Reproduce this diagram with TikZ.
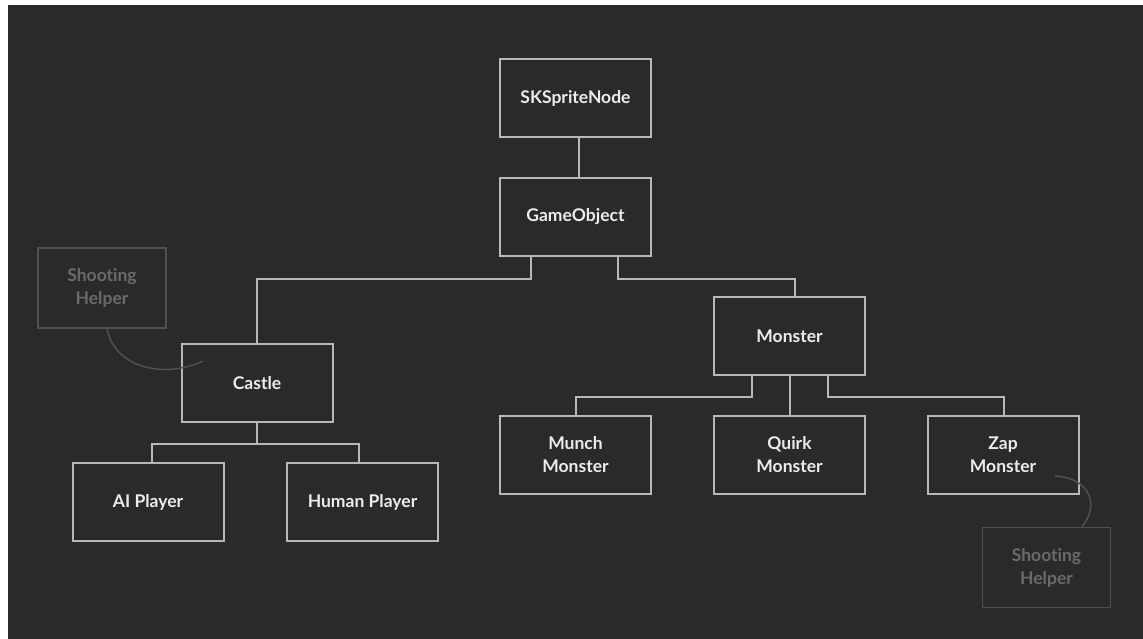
\documentclass[tikz,border=0pt]{standalone}
\usepackage{fontspec}
\setmainfont{Lato}[Ligatures=NoCommon]
\usetikzlibrary{calc}
\definecolor{bgc}{HTML}{2A2A2A}
\definecolor{linec}{HTML}{B8B8B8}
\definecolor{txtc}{HTML}{ECECEC}
\definecolor{dimline}{HTML}{505050}
\definecolor{dimtxt}{HTML}{6A6A6A}
\begin{document}
\begin{tikzpicture}[x=1pt,y=-1pt,
  box/.style={draw=linec,line width=2pt,minimum width=151pt,minimum height=78pt,inner sep=0pt,
    font=\fontsize{17.5}{23}\selectfont\bfseries,text=txtc,align=center},
  helper/.style={draw=dimline,line width=1.5pt,minimum width=128pt,minimum height=80pt,inner sep=0pt,
    font=\fontsize{17.5}{23}\selectfont\bfseries,text=dimtxt,align=center},
  link/.style={draw=linec,line width=2pt},
  hlink/.style={draw=dimline,line width=1.5pt}]
\useasboundingbox (0,0) rectangle (1143,639);
\fill[white] (0,0) rectangle (1143,639);
\fill[bgc] (8,5) rectangle (1143,639);

\node[box] (sk) at (575.5,98) {SKSpriteNode};
\node[box] (go) at (575.5,217) {GameObject};
\node[box] (castle) at (257,383) {Castle};
\node[box] (monster) at (789.5,336) {Monster};
\node[box] (ai) at (148,502) {AI Player};
\node[box] (human) at (362.5,502) {Human Player};
\node[box] (munch) at (575.5,455) {Munch\\Monster};
\node[box] (quirk) at (789.5,455) {Quirk\\Monster};
\node[box] (zap) at (1003,455) {Zap\\Monster};
\node[helper] (h1) at (102,288) {Shooting\\Helper};
\node[helper] (h2) at (1046.5,567.5) {Shooting\\Helper};

\draw[link] ([xshift=3.5pt]sk.south) -- ([xshift=3.5pt]go.north);
\draw[link] ([xshift=-44.5pt]go.south) -- ++(0,22) -| (castle.north);
\draw[link] ([xshift=42.5pt]go.south) -- ++(0,22) -| ([xshift=5.5pt]monster.north);
\draw[link] (castle.south) -- ++(0,21) -| ([xshift=4pt]ai.north);
\draw[link] (castle.south) ++(0,21) -| ([xshift=-3.5pt]human.north);
\draw[link] ([xshift=-37.5pt]monster.south) -- ++(0,21) -| (munch.north);
\draw[link] (monster.south) -- (quirk.north);
\draw[link] ([xshift=38.5pt]monster.south) -- ++(0,21) -| ([xshift=1pt]zap.north);

\draw[hlink] ([xshift=5pt]h1.south) .. controls ($(h1.south)+(13,40)$) and ($(h1.south)+(63,50)$) .. ($(castle.center)+(-54,-22)$);
\draw[hlink] ($(zap.center)+(52,21)$) .. controls ($(zap.center)+(87,23)$) and ($(zap.center)+(97,50)$) .. ([xshift=35.5pt]h2.north);
\end{tikzpicture}
\end{document}
